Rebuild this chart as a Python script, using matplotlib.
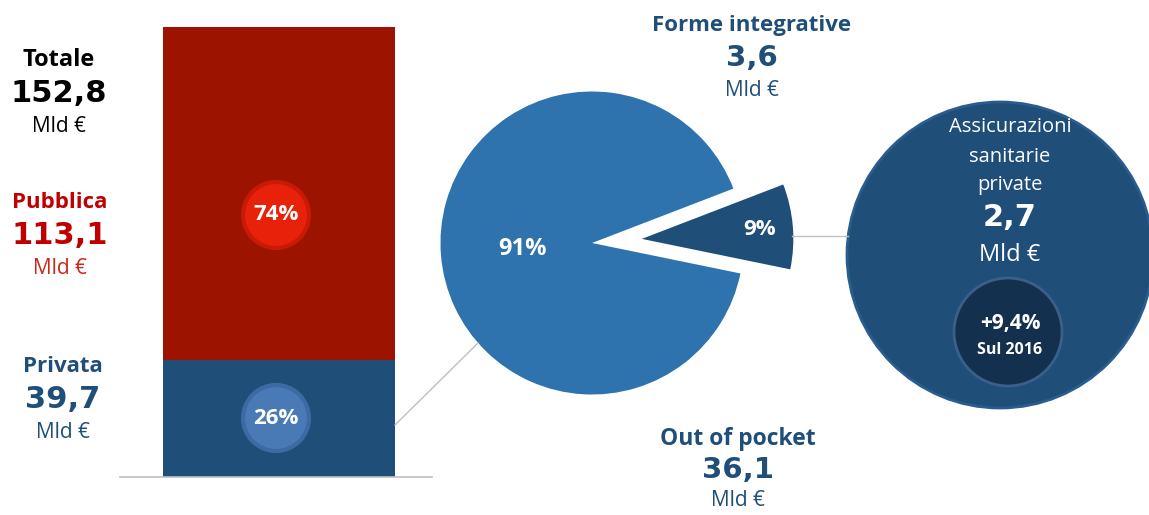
import numpy as np
import matplotlib.pyplot as plt
from matplotlib.patches import Circle

# spesa sanitaria (Mld €)
categories = ['Pubblica', 'Privata']
values = [113.1, 39.7]
total = 152.8

pie_labels = ['Forme integrative', 'Out of pocket']
pie_values = [3.6, 36.1]

insurance = 2.7
growth = '+9,4%'

red = '#9C1400'
dark_blue = '#1F4E79'
mid_blue = '#2E72AE'
label_font = 'Open Sans'
num_font = 'DejaVu Sans'

W, H = 1149, 515
fig = plt.figure(figsize=(W / 100, H / 100), dpi=100)

# stacked bar
axb = fig.add_axes([123 / W, 38 / H, 312 / W, 450 / H])
axb.bar(0, values[0], bottom=values[1], width=0.744, color=red)
axb.bar(0, values[1], width=0.744, color=dark_blue)
axb.axhline(0, xmin=-0.01, xmax=0.99, color='#BFBFBF', lw=1.2, clip_on=False)
axb.set_xlim(-0.5, 0.5)
axb.set_ylim(0, total)
axb.axis('off')

# pie of the private share
axp = fig.add_axes([392 / W, 72 / H, 400 / W, 400 / H])
wedges, _ = axp.pie(pie_values, colors=[dark_blue, mid_blue], startangle=-11.6,
                    explode=[0.33, 0], radius=1)
axp.set_xlim(-1.32, 1.32)
axp.set_ylim(-1.32, 1.32)
axp.set_aspect('equal')
axp.axis('off')
pie_total = sum(pie_values)
for w, v, d, s in zip(wedges, pie_values, [0.78, 0.46], [16, 17]):
    a = np.deg2rad((w.theta1 + w.theta2) / 2)
    cx, cy = w.center
    axp.text(cx + d * np.cos(a), cy + d * np.sin(a), f'{round(v / pie_total * 100)}%',
             ha='center', va='center', color='white', fontsize=s,
             fontweight='bold', family=label_font)

# overlay for texts and circles (pixel coordinates)
ax = fig.add_axes([0, 0, 1, 1])
ax.set_xlim(0, W)
ax.set_ylim(H, 0)
ax.patch.set_alpha(0)
ax.axis('off')


def block(x, y, title, value, col, col2=None, tsize=16, vsize=22, gap=33):
    col2 = col2 or col
    ax.text(x, y, title, ha='center', va='center', fontsize=tsize,
            fontweight='bold', color=col, family=label_font)
    ax.text(x, y + gap, value, ha='center', va='center', fontsize=vsize,
            fontweight='bold', color=col, family=num_font)
    ax.text(x, y + 2 * gap, 'Mld €', ha='center', va='center', fontsize=15,
            color=col2, family=label_font)


fmt = lambda v: f'{v:.1f}'.replace('.', ',')
block(59, 60, 'Totale', fmt(total), 'black', tsize=17)
block(60, 203, categories[0], fmt(values[0]), '#C00000', '#C8281A')
block(63, 367, categories[1], fmt(values[1]), dark_blue)
block(752, 25, pie_labels[0], fmt(pie_values[0]), dark_blue, tsize=16, vsize=21)
block(738, 439, pie_labels[1], fmt(pie_values[1]), dark_blue, tsize=16.5, vsize=21, gap=31)

# percent badges on the bar
for y, v, fc, ec in [(215, values[0], '#E8210A', '#C91A08'), (418, values[1], '#4A7AB5', '#3D6AA3')]:
    ax.add_patch(Circle((276, y), 33, facecolor=fc, edgecolor=ec, lw=3))
    ax.text(276, y, f'{round(v / total * 100)}%', ha='center', va='center',
            color='white', fontsize=16, fontweight='bold', family=label_font)

# connectors
ax.plot([395, 478], [425, 343], color='#BFBFBF', lw=1)
ax.plot([792, 848], [236, 236], color='#BFBFBF', lw=1)

# insurance circle
ax.add_patch(Circle((1000, 255), 153, facecolor=dark_blue, edgecolor='#2B5C8E', lw=2))
ax.add_patch(Circle((1008, 332), 54, facecolor='#14304F', edgecolor='#3A5F8A', lw=2))
for y, t in [(127, 'Assicurazioni'), (157, 'sanitarie'), (185, 'private')]:
    ax.text(1010, y, t, ha='center', va='center', color='white', fontsize=14.5,
            family=label_font)
ax.text(1010, 218, fmt(insurance), ha='center', va='center', color='white',
        fontsize=22, fontweight='bold', family=num_font)
ax.text(1010, 255, 'Mld €', ha='center', va='center', color='white',
        fontsize=17, family=label_font)
ax.text(1010, 324, growth, ha='center', va='center', color='white',
        fontsize=15, fontweight='bold', family=label_font)
ax.text(1010, 350, 'Sul 2016', ha='center', va='center', color='white',
        fontsize=11.5, fontweight='bold', family=label_font)

fig.savefig('out.png', dpi=100)
